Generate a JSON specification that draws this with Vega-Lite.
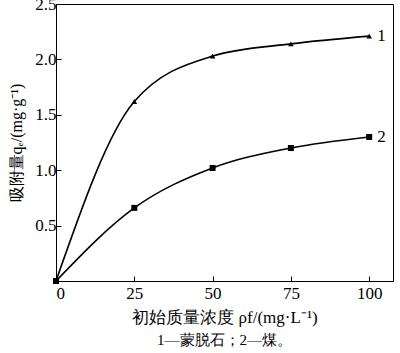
{
  "$schema": "https://vega.github.io/schema/vega-lite/v6.json",
  "width": 337,
  "height": 277,
  "autosize": "none",
  "padding": {"left": 56, "top": 4, "right": 7, "bottom": 72},
  "background": "white",
  "config": {
    "view": {"stroke": "black", "strokeWidth": 1},
    "font": "Liberation Serif",
    "axis": {
      "grid": false, "domainColor": "black", "tickColor": "black",
      "labelFont": "Liberation Serif", "labelFontSize": 17, "labelColor": "black",
      "titleFont": "Liberation Serif", "titleFontSize": 17, "titleColor": "black", "titleFontWeight": "normal",
      "tickSize": -5
    }
  },
  "title": {"text": "1—蒙脱石；2—煤。", "orient": "bottom", "fontSize": 15, "fontWeight": "normal", "font": "Liberation Serif", "color": "black", "offset": 8},
  "data": {"values": [
    {"c": 0, "q": 0, "s": "1"},
    {"c": 25, "q": 1.62, "s": "1"},
    {"c": 50, "q": 2.03, "s": "1"},
    {"c": 75, "q": 2.14, "s": "1"},
    {"c": 100, "q": 2.21, "s": "1"},
    {"c": 0, "q": 0, "s": "2"},
    {"c": 25, "q": 0.66, "s": "2"},
    {"c": 50, "q": 1.02, "s": "2"},
    {"c": 75, "q": 1.2, "s": "2"},
    {"c": 100, "q": 1.3, "s": "2"}
  ]},
  "encoding": {
    "x": {"field": "c", "type": "quantitative", "scale": {"domain": [0, 107.6], "nice": false},
      "axis": {"values": [0, 25, 50, 75, 100], "title": "初始质量浓度 ρf/(mg·L⁻¹)", "labelPadding": 9, "titlePadding": 8}},
    "y": {"field": "q", "type": "quantitative", "scale": {"domain": [0, 2.5], "nice": false},
      "axis": {"values": [0.5, 1, 1.5, 2, 2.5], "format": ".1f", "title": "吸附量qₑ/(mg·g⁻¹)", "titleFontSize": 16, "labelPadding": 5, "titlePadding": 10}}
  },
  "layer": [
    {"mark": {"type": "line", "interpolate": "monotone", "color": "black", "strokeWidth": 1.6},
     "encoding": {"detail": {"field": "s"}}},
    {"transform": [{"filter": "datum.s == '1'"}],
     "mark": {"type": "point", "shape": "triangle-up", "filled": true, "color": "black", "size": 32, "opacity": 1}},
    {"transform": [{"filter": "datum.s == '2'"}],
     "mark": {"type": "point", "shape": "square", "filled": true, "color": "black", "size": 36, "opacity": 1}},
    {"transform": [{"filter": "datum.c == 100"}],
     "mark": {"type": "text", "align": "left", "dx": 8, "fontSize": 17, "font": "Liberation Serif", "color": "black"},
     "encoding": {"text": {"field": "s"}}}
  ]
}
